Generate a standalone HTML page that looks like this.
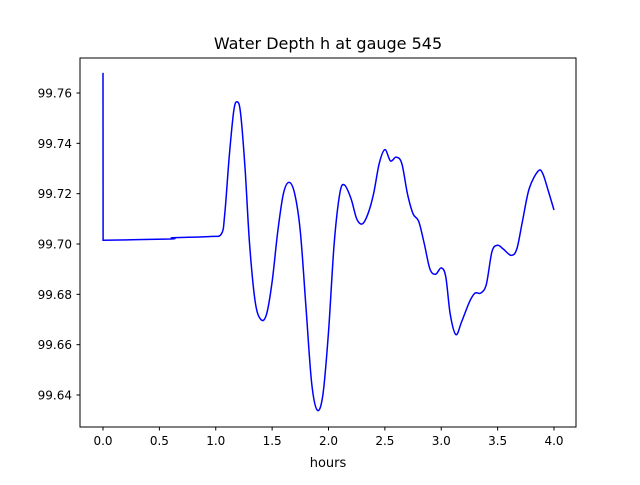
<!DOCTYPE html>
<html><head><meta charset="utf-8"><style>
body{margin:0;background:#fff}
svg text{font-family:"DejaVu Sans","Liberation Sans",sans-serif;fill:#000}
</style></head><body>
<svg id="chart" width="640" height="480" xmlns="http://www.w3.org/2000/svg">
<rect width="640" height="480" fill="#fff"/>
<text x="328" y="49" font-size="16" text-anchor="middle">Water Depth h at gauge 545</text>
<g id="ticks"></g>
<path id="line" fill="none" stroke="#0000ff" stroke-width="1.5"/>
<rect x="80" y="58" width="496" height="369" fill="none" stroke="#000" stroke-width="1"/>
<text x="328" y="467" font-size="13" text-anchor="middle">hours</text>
</svg>
<script>
const hours=[0,0.001,0.6,0.62,0.95,1.05,1.08,1.12,1.16,1.19,1.22,1.26,1.3,1.35,1.4,1.45,1.5,1.55,1.6,1.65,1.7,1.75,1.8,1.85,1.9,1.95,2.0,2.05,2.1,2.14,2.2,2.25,2.3,2.35,2.4,2.45,2.5,2.55,2.6,2.65,2.7,2.75,2.8,2.85,2.9,2.95,3.0,3.04,3.08,3.13,3.18,3.25,3.3,3.35,3.4,3.45,3.5,3.55,3.62,3.67,3.72,3.78,3.86,3.9,3.95,4.0];
const depth=[99.768,99.7015,99.702,99.7025,99.703,99.704,99.712,99.735,99.753,99.7565,99.752,99.73,99.70,99.677,99.670,99.672,99.685,99.705,99.72,99.7245,99.72,99.705,99.675,99.645,99.634,99.640,99.665,99.70,99.72,99.7235,99.718,99.71,99.708,99.712,99.72,99.732,99.7375,99.733,99.7345,99.732,99.72,99.712,99.709,99.70,99.69,99.688,99.6905,99.687,99.672,99.664,99.669,99.677,99.6805,99.6805,99.684,99.697,99.6995,99.698,99.6955,99.698,99.709,99.722,99.729,99.728,99.721,99.7135];
const xTicks=[0,0.5,1,1.5,2,2.5,3,3.5,4];
const yTicks=[99.64,99.66,99.68,99.70,99.72,99.74,99.76];
const X=v=>103+v*112.75;
const Y=v=>93+(99.76-v)*2516.7;
const NS="http://www.w3.org/2000/svg";
const g=document.getElementById('ticks');
function mk(t,a){const e=document.createElementNS(NS,t);for(const k in a)e.setAttribute(k,a[k]);g.appendChild(e);return e;}
xTicks.forEach(v=>{
  const l=mk('line',{x1:X(v),x2:X(v),y1:427,y2:430.5,stroke:'#000'});
  
  
  const t=mk('text',{x:X(v),y:445,'font-size':12,'text-anchor':'middle'});
  t.textContent=v.toFixed(1);
  
  
});
yTicks.forEach(v=>{
  const l=mk('line',{x1:76.5,x2:80,y1:Y(v),y2:Y(v),stroke:'#000'});
  
  
  const t=mk('text',{x:72,y:Y(v)+4.5,'font-size':12,'text-anchor':'end'});
  t.textContent=v.toFixed(2);
  
  
});
const P=hours.map((h,i)=>[X(h),Y(depth[i])]);
let d='M'+P[0][0]+','+P[0][1]+' L'+P[1][0]+','+P[1][1];
for(let i=1;i<P.length-1;i++){
  const p0=P[Math.max(i-1,1)],p1=P[i],p2=P[i+1],p3=P[Math.min(i+2,P.length-1)];
  const c1=[p1[0]+(p2[0]-p0[0])/6,p1[1]+(p2[1]-p0[1])/6];
  const c2=[p2[0]-(p3[0]-p1[0])/6,p2[1]-(p3[1]-p1[1])/6];
  d+=' C'+c1+' '+c2+' '+p2;
}
document.getElementById('line').setAttribute('d',d);
</script>
</body></html>
